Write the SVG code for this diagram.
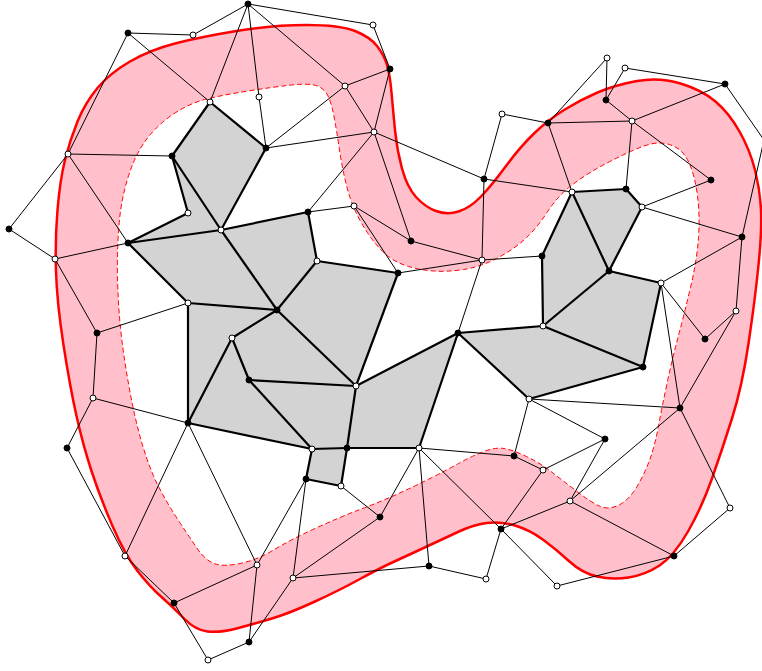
<svg xmlns="http://www.w3.org/2000/svg" width="762" height="671" viewBox="0 0 762 671">
<style>
.band{fill:#ffc0cb;fill-rule:evenodd;stroke:none}
.outer{fill:none;stroke:#ff0000;stroke-width:2.5}
.inner{fill:none;stroke:#ff0000;stroke-width:1;stroke-dasharray:5,3}
.face{fill:#d3d3d3;stroke:none}
.thin line{stroke:#000;stroke-width:1}
.thick line{stroke:#000;stroke-width:2.2;stroke-linecap:round}
.f{fill:#000;stroke:#000;stroke-width:1}
.o{fill:#fff;stroke:#000;stroke-width:1}
</style>
<rect width="762" height="671" fill="#fff"/>
<g id="band">
<path class="band" d="M 175,43.5 Q 200,37 236.5,31 Q 273,25 306.5,25 Q 340,25 355,31 Q 370,37 377,46 Q 384,55 387,65 Q 390,75 391.5,92.5 Q 393,110 395,130 Q 397,150 402,168.5 Q 407,187 416,197 Q 425,207 436,211 Q 447,215 458.5,211.5 Q 470,208 481,196.5 Q 492,185 506,166 Q 520,147 534,133.5 Q 548,120 564,110 Q 580,100 597.5,92.5 Q 615,85 637,81 Q 659,77 680.5,83.5 Q 702,90 715.5,101.5 Q 729,113 739.5,131.5 Q 750,150 755,170 Q 760,190 761,210 Q 762,230 758.5,265 Q 755,300 748.5,343.5 Q 742,387 732,418.5 Q 722,450 712,478.5 Q 702,507 688,531.5 Q 674,556 659.5,565.5 Q 645,575 628.5,577.5 Q 612,580 597,576.5 Q 582,573 569.5,561.5 Q 557,550 543.5,540 Q 530,530 515,525.5 Q 500,521 486.5,523 Q 473,525 460,531 Q 447,537 430,545 Q 413,553 396.5,560.5 Q 380,568 360,579 Q 340,590 315,601.5 Q 290,613 273.5,618 Q 257,623 238.5,628 Q 220,633 207.5,631.5 Q 195,630 184,618.5 Q 173,607 161.5,597 Q 150,587 137.5,571 Q 125,555 112.5,526 Q 100,497 91.5,471 Q 83,445 76.5,416 Q 70,387 63.5,345 Q 57,303 56,271.5 Q 55,240 57.5,210 Q 60,180 65,160 Q 70,140 77.5,121.5 Q 85,103 97.5,88 Q 110,73 130,61.5 Q 150,50 175,43.5 Z M 173.5,114 Q 190,103 206.5,99 Q 223,95 248,91 Q 273,87 291.5,85 Q 310,83 317.5,86 Q 325,89 328.5,97 Q 332,105 334.5,119 Q 337,133 339.5,150 Q 342,167 346,183.5 Q 350,200 356.5,213.5 Q 363,227 371.5,238.5 Q 380,250 388.5,256.5 Q 397,263 408.5,266.5 Q 420,270 433.5,271 Q 447,272 463.5,269.5 Q 480,267 496.5,258.5 Q 513,250 525,239 Q 537,228 547,212.5 Q 557,197 569.5,187 Q 582,177 597,168.5 Q 612,160 630.5,151.5 Q 649,143 659,143 Q 669,143 677,148 Q 685,153 690,165 Q 695,177 697.5,196 Q 700,215 698.5,237.5 Q 697,260 690.5,287.5 Q 684,315 678,337.5 Q 672,360 667,383.5 Q 662,407 658.5,426 Q 655,445 650,459 Q 645,473 637,486.5 Q 629,500 619,505 Q 609,510 600.5,506.5 Q 592,503 577,491.5 Q 562,480 551,471.5 Q 540,463 526.5,456.5 Q 513,450 504,448.5 Q 495,447 482.5,452 Q 470,457 458.5,463.5 Q 447,470 430,478.5 Q 413,487 396.5,494.5 Q 380,502 360,509.5 Q 340,517 315,528.5 Q 290,540 273.5,550 Q 257,560 240,563.5 Q 223,567 214,563.5 Q 205,560 196.5,547.5 Q 188,535 177.5,519 Q 167,503 158.5,486.5 Q 150,470 142.5,445 Q 135,420 129,386.5 Q 123,353 120.5,328 Q 118,303 117.5,276.5 Q 117,250 119,225 Q 121,200 128,177.5 Q 135,155 146,140 Q 157,125 173.5,114 Z"/>
<path class="outer" d="M 175,43.5 Q 200,37 236.5,31 Q 273,25 306.5,25 Q 340,25 355,31 Q 370,37 377,46 Q 384,55 387,65 Q 390,75 391.5,92.5 Q 393,110 395,130 Q 397,150 402,168.5 Q 407,187 416,197 Q 425,207 436,211 Q 447,215 458.5,211.5 Q 470,208 481,196.5 Q 492,185 506,166 Q 520,147 534,133.5 Q 548,120 564,110 Q 580,100 597.5,92.5 Q 615,85 637,81 Q 659,77 680.5,83.5 Q 702,90 715.5,101.5 Q 729,113 739.5,131.5 Q 750,150 755,170 Q 760,190 761,210 Q 762,230 758.5,265 Q 755,300 748.5,343.5 Q 742,387 732,418.5 Q 722,450 712,478.5 Q 702,507 688,531.5 Q 674,556 659.5,565.5 Q 645,575 628.5,577.5 Q 612,580 597,576.5 Q 582,573 569.5,561.5 Q 557,550 543.5,540 Q 530,530 515,525.5 Q 500,521 486.5,523 Q 473,525 460,531 Q 447,537 430,545 Q 413,553 396.5,560.5 Q 380,568 360,579 Q 340,590 315,601.5 Q 290,613 273.5,618 Q 257,623 238.5,628 Q 220,633 207.5,631.5 Q 195,630 184,618.5 Q 173,607 161.5,597 Q 150,587 137.5,571 Q 125,555 112.5,526 Q 100,497 91.5,471 Q 83,445 76.5,416 Q 70,387 63.5,345 Q 57,303 56,271.5 Q 55,240 57.5,210 Q 60,180 65,160 Q 70,140 77.5,121.5 Q 85,103 97.5,88 Q 110,73 130,61.5 Q 150,50 175,43.5 Z"/>
<path class="inner" d="M 173.5,114 Q 190,103 206.5,99 Q 223,95 248,91 Q 273,87 291.5,85 Q 310,83 317.5,86 Q 325,89 328.5,97 Q 332,105 334.5,119 Q 337,133 339.5,150 Q 342,167 346,183.5 Q 350,200 356.5,213.5 Q 363,227 371.5,238.5 Q 380,250 388.5,256.5 Q 397,263 408.5,266.5 Q 420,270 433.5,271 Q 447,272 463.5,269.5 Q 480,267 496.5,258.5 Q 513,250 525,239 Q 537,228 547,212.5 Q 557,197 569.5,187 Q 582,177 597,168.5 Q 612,160 630.5,151.5 Q 649,143 659,143 Q 669,143 677,148 Q 685,153 690,165 Q 695,177 697.5,196 Q 700,215 698.5,237.5 Q 697,260 690.5,287.5 Q 684,315 678,337.5 Q 672,360 667,383.5 Q 662,407 658.5,426 Q 655,445 650,459 Q 645,473 637,486.5 Q 629,500 619,505 Q 609,510 600.5,506.5 Q 592,503 577,491.5 Q 562,480 551,471.5 Q 540,463 526.5,456.5 Q 513,450 504,448.5 Q 495,447 482.5,452 Q 470,457 458.5,463.5 Q 447,470 430,478.5 Q 413,487 396.5,494.5 Q 380,502 360,509.5 Q 340,517 315,528.5 Q 290,540 273.5,550 Q 257,560 240,563.5 Q 223,567 214,563.5 Q 205,560 196.5,547.5 Q 188,535 177.5,519 Q 167,503 158.5,486.5 Q 150,470 142.5,445 Q 135,420 129,386.5 Q 123,353 120.5,328 Q 118,303 117.5,276.5 Q 117,250 119,225 Q 121,200 128,177.5 Q 135,155 146,140 Q 157,125 173.5,114 Z"/>
</g>
<g id="faces">
<polygon class="face" points="210,102 266,148 221,230 172,156"/>
<polygon class="face" points="172,156 221,230 128,243 188,213"/>
<polygon class="face" points="128,243 221,230 277,310 188,303"/>
<polygon class="face" points="221,230 308,212 317,261 277,310"/>
<polygon class="face" points="317,261 398,273 356,386 277,310"/>
<polygon class="face" points="188,303 277,310 232,338 188,423"/>
<polygon class="face" points="277,310 356,386 249,380 232,338"/>
<polygon class="face" points="188,423 232,338 249,380 312,449"/>
<polygon class="face" points="249,380 356,386 347,448 312,449"/>
<polygon class="face" points="356,386 458,333 419,448 347,448"/>
<polygon class="face" points="312,449 347,448 341,486 306,479"/>
<polygon class="face" points="458,333 543,326 643,367 529,399"/>
<polygon class="face" points="572,192 626,189 642,207 609,271"/>
<polygon class="face" points="572,192 609,271 543,326 542,256"/>
<polygon class="face" points="609,271 661,283 643,367 543,326"/>
</g>
<g id="connectors">
<g class="thin">
<line x1="128" y1="33" x2="193" y2="35"/>
<line x1="128" y1="33" x2="68" y2="154"/>
<line x1="128" y1="33" x2="210" y2="102"/>
<line x1="193" y1="35" x2="248" y2="4"/>
<line x1="248" y1="4" x2="210" y2="102"/>
<line x1="248" y1="4" x2="259" y2="97"/>
<line x1="248" y1="4" x2="345" y2="86"/>
<line x1="248" y1="4" x2="373" y2="25"/>
<line x1="373" y1="25" x2="390" y2="69"/>
<line x1="390" y1="69" x2="345" y2="86"/>
<line x1="390" y1="69" x2="374" y2="132"/>
<line x1="345" y1="86" x2="266" y2="148"/>
<line x1="345" y1="86" x2="374" y2="132"/>
<line x1="259" y1="97" x2="266" y2="148"/>
<line x1="266" y1="148" x2="374" y2="132"/>
<line x1="374" y1="132" x2="308" y2="212"/>
<line x1="374" y1="132" x2="484" y2="179"/>
<line x1="374" y1="132" x2="411" y2="241"/>
<line x1="354" y1="206" x2="308" y2="212"/>
<line x1="354" y1="206" x2="411" y2="241"/>
<line x1="354" y1="206" x2="398" y2="273"/>
<line x1="68" y1="154" x2="172" y2="156"/>
<line x1="68" y1="154" x2="9" y2="229"/>
<line x1="68" y1="154" x2="128" y2="243"/>
<line x1="9" y1="229" x2="55" y2="259"/>
<line x1="55" y1="259" x2="128" y2="243"/>
<line x1="55" y1="259" x2="97" y2="333"/>
<line x1="97" y1="333" x2="188" y2="303"/>
<line x1="97" y1="333" x2="93" y2="398"/>
<line x1="93" y1="398" x2="188" y2="423"/>
<line x1="93" y1="398" x2="67" y2="448"/>
<line x1="67" y1="448" x2="125" y2="556"/>
<line x1="125" y1="556" x2="188" y2="423"/>
<line x1="125" y1="556" x2="174" y2="603"/>
<line x1="174" y1="603" x2="257" y2="565"/>
<line x1="174" y1="603" x2="208" y2="660"/>
<line x1="208" y1="660" x2="249" y2="642"/>
<line x1="249" y1="642" x2="257" y2="565"/>
<line x1="249" y1="642" x2="293" y2="578"/>
<line x1="257" y1="565" x2="188" y2="423"/>
<line x1="257" y1="565" x2="306" y2="479"/>
<line x1="293" y1="578" x2="306" y2="479"/>
<line x1="293" y1="578" x2="380" y2="517"/>
<line x1="293" y1="578" x2="429" y2="566"/>
<line x1="341" y1="486" x2="380" y2="517"/>
<line x1="380" y1="517" x2="419" y2="448"/>
<line x1="419" y1="448" x2="429" y2="566"/>
<line x1="419" y1="448" x2="501" y2="529"/>
<line x1="419" y1="448" x2="514" y2="456"/>
<line x1="429" y1="566" x2="486" y2="579"/>
<line x1="486" y1="579" x2="501" y2="529"/>
<line x1="501" y1="529" x2="543" y2="470"/>
<line x1="501" y1="529" x2="570" y2="501"/>
<line x1="501" y1="529" x2="557" y2="586"/>
<line x1="557" y1="586" x2="674" y2="556"/>
<line x1="570" y1="501" x2="674" y2="556"/>
<line x1="730" y1="508" x2="674" y2="556"/>
<line x1="680" y1="408" x2="730" y2="508"/>
<line x1="680" y1="408" x2="570" y2="501"/>
<line x1="605" y1="439" x2="570" y2="501"/>
<line x1="543" y1="470" x2="605" y2="439"/>
<line x1="514" y1="456" x2="543" y2="470"/>
<line x1="529" y1="399" x2="514" y2="456"/>
<line x1="529" y1="399" x2="605" y2="439"/>
<line x1="529" y1="399" x2="680" y2="408"/>
<line x1="680" y1="408" x2="661" y2="283"/>
<line x1="680" y1="408" x2="736" y2="311"/>
<line x1="736" y1="311" x2="705" y2="339"/>
<line x1="705" y1="339" x2="661" y2="283"/>
<line x1="661" y1="283" x2="742" y2="237"/>
<line x1="736" y1="311" x2="742" y2="237"/>
<line x1="742" y1="237" x2="642" y2="207"/>
<line x1="742" y1="237" x2="764" y2="140"/>
<line x1="725" y1="84" x2="764" y2="140"/>
<line x1="642" y1="207" x2="711" y2="180"/>
<line x1="711" y1="180" x2="632" y2="121"/>
<line x1="632" y1="121" x2="725" y2="84"/>
<line x1="625" y1="68" x2="725" y2="84"/>
<line x1="625" y1="68" x2="606" y2="100"/>
<line x1="607" y1="58" x2="606" y2="100"/>
<line x1="606" y1="100" x2="632" y2="121"/>
<line x1="632" y1="121" x2="548" y2="123"/>
<line x1="632" y1="121" x2="626" y2="189"/>
<line x1="548" y1="123" x2="607" y2="58"/>
<line x1="548" y1="123" x2="502" y2="114"/>
<line x1="548" y1="123" x2="572" y2="192"/>
<line x1="502" y1="114" x2="484" y2="179"/>
<line x1="484" y1="179" x2="572" y2="192"/>
<line x1="484" y1="179" x2="482" y2="260"/>
<line x1="482" y1="260" x2="411" y2="241"/>
<line x1="482" y1="260" x2="398" y2="273"/>
<line x1="482" y1="260" x2="542" y2="256"/>
<line x1="482" y1="260" x2="458" y2="333"/>
</g>
<g class="thick">
<line x1="210" y1="102" x2="266" y2="148"/>
<line x1="210" y1="102" x2="172" y2="156"/>
<line x1="172" y1="156" x2="221" y2="230"/>
<line x1="172" y1="156" x2="188" y2="213"/>
<line x1="188" y1="213" x2="128" y2="243"/>
<line x1="128" y1="243" x2="221" y2="230"/>
<line x1="266" y1="148" x2="221" y2="230"/>
<line x1="221" y1="230" x2="308" y2="212"/>
<line x1="308" y1="212" x2="317" y2="261"/>
<line x1="317" y1="261" x2="277" y2="310"/>
<line x1="221" y1="230" x2="277" y2="310"/>
<line x1="128" y1="243" x2="188" y2="303"/>
<line x1="188" y1="303" x2="277" y2="310"/>
<line x1="188" y1="303" x2="188" y2="423"/>
<line x1="277" y1="310" x2="232" y2="338"/>
<line x1="232" y1="338" x2="188" y2="423"/>
<line x1="232" y1="338" x2="249" y2="380"/>
<line x1="249" y1="380" x2="356" y2="386"/>
<line x1="277" y1="310" x2="356" y2="386"/>
<line x1="317" y1="261" x2="398" y2="273"/>
<line x1="398" y1="273" x2="356" y2="386"/>
<line x1="249" y1="380" x2="312" y2="449"/>
<line x1="188" y1="423" x2="312" y2="449"/>
<line x1="356" y1="386" x2="347" y2="448"/>
<line x1="312" y1="449" x2="347" y2="448"/>
<line x1="356" y1="386" x2="458" y2="333"/>
<line x1="458" y1="333" x2="419" y2="448"/>
<line x1="347" y1="448" x2="419" y2="448"/>
<line x1="312" y1="449" x2="306" y2="479"/>
<line x1="306" y1="479" x2="341" y2="486"/>
<line x1="341" y1="486" x2="347" y2="448"/>
<line x1="458" y1="333" x2="543" y2="326"/>
<line x1="458" y1="333" x2="529" y2="399"/>
<line x1="543" y1="326" x2="643" y2="367"/>
<line x1="643" y1="367" x2="529" y2="399"/>
<line x1="543" y1="326" x2="609" y2="271"/>
<line x1="543" y1="326" x2="542" y2="256"/>
<line x1="542" y1="256" x2="572" y2="192"/>
<line x1="572" y1="192" x2="626" y2="189"/>
<line x1="626" y1="189" x2="642" y2="207"/>
<line x1="642" y1="207" x2="609" y2="271"/>
<line x1="572" y1="192" x2="609" y2="271"/>
<line x1="609" y1="271" x2="661" y2="283"/>
<line x1="661" y1="283" x2="643" y2="367"/>
</g>
</g>
<g id="nA"><circle class="f" cx="128" cy="33" r="3"/></g>
<g id="nB"><circle class="o" cx="193" cy="35" r="3"/></g>
<g id="nC"><circle class="o" cx="68" cy="154" r="3"/></g>
<g id="nD"><circle class="f" cx="172" cy="156" r="3"/></g>
<g id="nE"><circle class="o" cx="188" cy="213" r="3"/></g>
<g id="nF"><circle class="f" cx="9" cy="229" r="3"/></g>
<g id="nG"><circle class="f" cx="248" cy="4" r="3"/></g>
<g id="nH"><circle class="o" cx="373" cy="25" r="3"/></g>
<g id="nI"><circle class="f" cx="390" cy="69" r="3"/></g>
<g id="nJ"><circle class="o" cx="345" cy="86" r="3"/></g>
<g id="nK"><circle class="o" cx="259" cy="97" r="3"/></g>
<g id="nL"><circle class="o" cx="210" cy="102" r="3"/></g>
<g id="nM"><circle class="f" cx="266" cy="148" r="3"/></g>
<g id="nN"><circle class="o" cx="374" cy="132" r="3"/></g>
<g id="nO"><circle class="o" cx="354" cy="206" r="3"/></g>
<g id="nP"><circle class="f" cx="308" cy="212" r="3"/></g>
<g id="nQ"><circle class="o" cx="221" cy="230" r="3"/></g>
<g id="nR"><circle class="o" cx="502" cy="114" r="3"/></g>
<g id="nS"><circle class="f" cx="548" cy="123" r="3"/></g>
<g id="nT"><circle class="f" cx="484" cy="179" r="3"/></g>
<g id="nU"><circle class="o" cx="572" cy="192" r="3"/></g>
<g id="nV"><circle class="o" cx="607" cy="58" r="3"/></g>
<g id="nW"><circle class="o" cx="625" cy="68" r="3"/></g>
<g id="nX"><circle class="f" cx="606" cy="100" r="3"/></g>
<g id="nY"><circle class="f" cx="725" cy="84" r="3"/></g>
<g id="nZ"><circle class="o" cx="632" cy="121" r="3"/></g>
<g id="nAA"><circle class="f" cx="711" cy="180" r="3"/></g>
<g id="nAB"><circle class="f" cx="626" cy="189" r="3"/></g>
<g id="nAC"><circle class="o" cx="642" cy="207" r="3"/></g>
<g id="nAD"><circle class="f" cx="742" cy="237" r="3"/></g>
<g id="nAE"><circle class="f" cx="128" cy="243" r="3"/></g>
<g id="nAF"><circle class="o" cx="55" cy="259" r="3"/></g>
<g id="nAG"><circle class="o" cx="188" cy="303" r="3"/></g>
<g id="nAH"><circle class="f" cx="97" cy="333" r="3"/></g>
<g id="nAI"><circle class="o" cx="93" cy="398" r="3"/></g>
<g id="nAJ"><circle class="f" cx="188" cy="423" r="3"/></g>
<g id="nAK"><circle class="f" cx="67" cy="448" r="3"/></g>
<g id="nAL"><circle class="o" cx="317" cy="261" r="3"/></g>
<g id="nAM"><circle class="f" cx="277" cy="310" r="3"/></g>
<g id="nAN"><circle class="o" cx="232" cy="338" r="3"/></g>
<g id="nAO"><circle class="f" cx="249" cy="380" r="3"/></g>
<g id="nAP"><circle class="o" cx="356" cy="386" r="3"/></g>
<g id="nAQ"><circle class="o" cx="312" cy="449" r="3"/></g>
<g id="nAR"><circle class="f" cx="347" cy="448" r="3"/></g>
<g id="nAS"><circle class="f" cx="411" cy="241" r="3"/></g>
<g id="nAT"><circle class="o" cx="482" cy="260" r="3"/></g>
<g id="nAU"><circle class="f" cx="542" cy="256" r="3"/></g>
<g id="nAV"><circle class="f" cx="398" cy="273" r="3"/></g>
<g id="nAW"><circle class="f" cx="458" cy="333" r="3"/></g>
<g id="nAX"><circle class="o" cx="543" cy="326" r="3"/></g>
<g id="nAY"><circle class="o" cx="529" cy="399" r="3"/></g>
<g id="nAZ"><circle class="o" cx="419" cy="448" r="3"/></g>
<g id="nBA"><circle class="f" cx="609" cy="271" r="3"/></g>
<g id="nBB"><circle class="o" cx="661" cy="283" r="3"/></g>
<g id="nBC"><circle class="o" cx="736" cy="311" r="3"/></g>
<g id="nBD"><circle class="f" cx="705" cy="339" r="3"/></g>
<g id="nBE"><circle class="f" cx="643" cy="367" r="3"/></g>
<g id="nBF"><circle class="f" cx="680" cy="408" r="3"/></g>
<g id="nBG"><circle class="f" cx="605" cy="439" r="3"/></g>
<g id="nBH"><circle class="o" cx="125" cy="556" r="3"/></g>
<g id="nBI"><circle class="f" cx="174" cy="603" r="3"/></g>
<g id="nBJ"><circle class="f" cx="306" cy="479" r="3"/></g>
<g id="nBK"><circle class="o" cx="341" cy="486" r="3"/></g>
<g id="nBL"><circle class="f" cx="380" cy="517" r="3"/></g>
<g id="nBM"><circle class="o" cx="257" cy="565" r="3"/></g>
<g id="nBN"><circle class="o" cx="293" cy="578" r="3"/></g>
<g id="nBO"><circle class="f" cx="249" cy="642" r="3"/></g>
<g id="nBP"><circle class="o" cx="208" cy="660" r="3"/></g>
<g id="nBQ"><circle class="f" cx="514" cy="456" r="3"/></g>
<g id="nBR"><circle class="o" cx="543" cy="470" r="3"/></g>
<g id="nBS"><circle class="o" cx="570" cy="501" r="3"/></g>
<g id="nBT"><circle class="f" cx="501" cy="529" r="3"/></g>
<g id="nBU"><circle class="f" cx="429" cy="566" r="3"/></g>
<g id="nBV"><circle class="o" cx="486" cy="579" r="3"/></g>
<g id="nBW"><circle class="o" cx="557" cy="586" r="3"/></g>
<g id="nBX"><circle class="o" cx="730" cy="508" r="3"/></g>
<g id="nBY"><circle class="f" cx="674" cy="556" r="3"/></g>
</svg>
